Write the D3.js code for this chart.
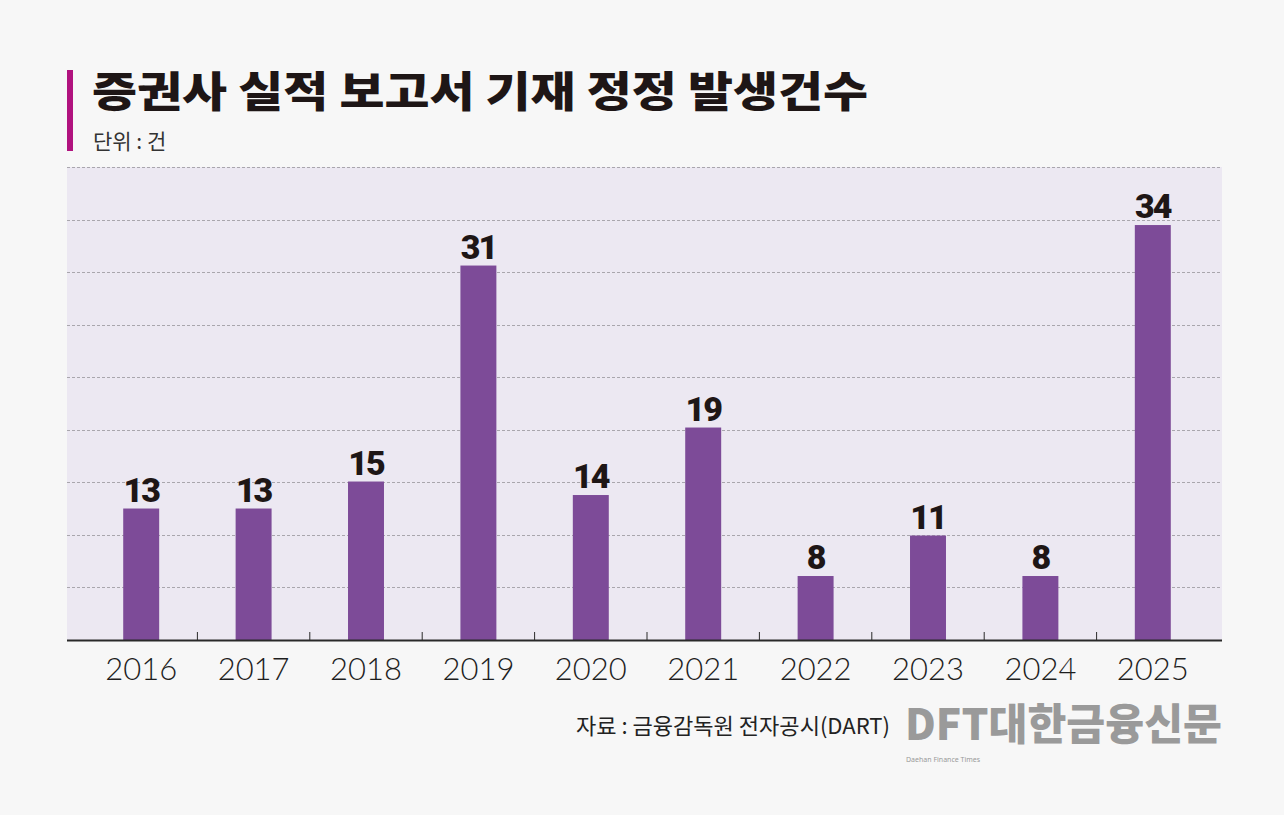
<!DOCTYPE html>
<html>
<head>
<meta charset="utf-8">
<script src="https://cdn.jsdelivr.net/npm/d3@7"></script>
<style>
  body { margin: 0; background: #f7f7f7; }
  svg { display: block; }
</style>
</head>
<body>
<div id="chart"></div>
<script>
// data
var years = ['2016', '2017', '2018', '2019', '2020', '2021', '2022', '2023', '2024', '2025'];
var counts = [13, 13, 15, 31, 14, 19, 8, 11, 8, 34];

var svgWidth = 1284;
var svgHeight = 815;

var plot = { left: 67, right: 1222, top: 167, bottom: 640 };

var svg = d3.select('#chart')
  .append('svg')
  .attr('width', svgWidth)
  .attr('height', svgHeight);

svg.append('rect')
  .attr('width', svgWidth)
  .attr('height', svgHeight)
  .attr('fill', '#f7f7f7');

// title
svg.append('rect')
  .attr('x', 67).attr('y', 70)
  .attr('width', 6).attr('height', 81)
  .attr('fill', '#b1137f');

svg.append('text')
  .attr('x', 92).attr('y', 107)
  .attr('textLength', 776)
  .attr('lengthAdjust', 'spacingAndGlyphs')
  .style('font-family', '"Noto Sans CJK KR", sans-serif')
  .style('font-weight', 900)
  .style('font-size', '42px')
  .style('fill', '#1e1616')
  .text('증권사 실적 보고서 기재 정정 발생건수');

svg.append('text')
  .attr('x', 93).attr('y', 149)
  .style('font-family', '"Noto Sans CJK KR", sans-serif')
  .style('font-weight', 400)
  .style('font-size', '21px')
  .style('fill', '#333')
  .text('단위 : 건');

// scales
var xScale = d3.scaleBand()
  .domain(years)
  .range([85, 1209])
  .paddingInner(0.68)
  .paddingOuter(0.34);

// the drawing's bars rise from a baseline offset, not from zero
var yScale = d3.scaleLinear()
  .domain([3.26, 38.3])
  .range([plot.bottom, plot.top]);

// plot background
svg.append('rect')
  .attr('x', plot.left).attr('y', plot.top)
  .attr('width', plot.right - plot.left)
  .attr('height', plot.bottom - plot.top)
  .attr('fill', '#ece8f2');

// dashed grid
var yDomain = yScale.domain();
var gridVals = d3.range(1, 10).map(function(i) {
  return yDomain[0] + (yDomain[1] - yDomain[0]) * i / 9;
});

svg.append('g')
  .selectAll('line')
  .data(gridVals)
  .enter()
  .append('line')
  .attr('x1', plot.left)
  .attr('x2', plot.right)
  .attr('y1', d => Math.round(yScale(d)) + 0.5)
  .attr('y2', d => Math.round(yScale(d)) + 0.5)
  .attr('stroke', '#a9a6ad')
  .attr('stroke-width', 1)
  .attr('stroke-dasharray', '3,2');

// bars
var rows = years.map(function(y, i) { return { year: y, count: counts[i] }; });

svg.append('g')
  .selectAll('rect')
  .data(rows)
  .enter()
  .append('rect')
  .attr('x', d => xScale(d.year))
  .attr('width', xScale.bandwidth())
  .attr('y', d => yScale(d.count))
  .attr('height', d => plot.bottom - yScale(d.count))
  .attr('fill', '#7d4b98');

// value labels
svg.append('g')
  .selectAll('text')
  .data(rows)
  .enter()
  .append('text')
  .attr('x', d => xScale(d.year) + xScale.bandwidth() / 2)
  .attr('y', d => yScale(d.count) - 7)
  .attr('text-anchor', 'middle')
  .style('font-family', 'Roboto, sans-serif')
  .style('font-weight', 900)
  .style('font-size', '34px')
  .style('letter-spacing', '-2px')
  .style('fill', '#1e1616')
  .text(d => d.count);

// x axis
var xAxis = d3.axisBottom(xScale).tickSize(0).tickPadding(18);

var axisG = svg.append('g')
  .attr('transform', `translate(0, ${plot.bottom})`)
  .call(xAxis);

axisG.select('.domain').remove();
axisG.selectAll('text')
  .style('font-family', 'Lato, "Noto Sans", sans-serif')
  .style('font-weight', 300)
  .style('font-size', '31px')
  .style('fill', '#1e1e1e')
  .attr('dy', '0.71em');

axisG.append('line')
  .attr('x1', plot.left).attr('x2', plot.right)
  .attr('y1', 0.5).attr('y2', 0.5)
  .attr('stroke', '#2a2a2a')
  .attr('stroke-width', 2);

// small ticks between categories
var step = xScale.step();
axisG.selectAll('.sep')
  .data(years.slice(1))
  .enter()
  .append('line')
  .attr('class', 'sep')
  .attr('x1', d => xScale(d) - (step - xScale.bandwidth()) / 2)
  .attr('x2', d => xScale(d) - (step - xScale.bandwidth()) / 2)
  .attr('y1', 0).attr('y2', -8)
  .attr('stroke', '#2a2a2a')
  .attr('stroke-width', 1);

// source and logo
svg.append('text')
  .attr('x', 576).attr('y', 734)
  .attr('textLength', 314)
  .attr('lengthAdjust', 'spacingAndGlyphs')
  .style('font-family', '"Noto Sans CJK KR", sans-serif')
  .style('font-size', '22px')
  .style('fill', '#222')
  .text('자료 : 금융감독원 전자공시(DART)');

svg.append('text')
  .attr('x', 905).attr('y', 740)
  .attr('textLength', 317)
  .attr('lengthAdjust', 'spacingAndGlyphs')
  .style('font-family', '"Noto Sans CJK KR", sans-serif')
  .style('font-weight', 900)
  .style('font-size', '43px')
  .style('fill', '#9a9a9a')
  .text('DFT대한금융신문');

svg.append('text')
  .attr('x', 906).attr('y', 762)
  .style('font-family', '"Noto Sans", sans-serif')
  .style('font-size', '7px')
  .style('fill', '#9a9a9a')
  .text('Daehan Finance Times');
</script>
</body>
</html>
